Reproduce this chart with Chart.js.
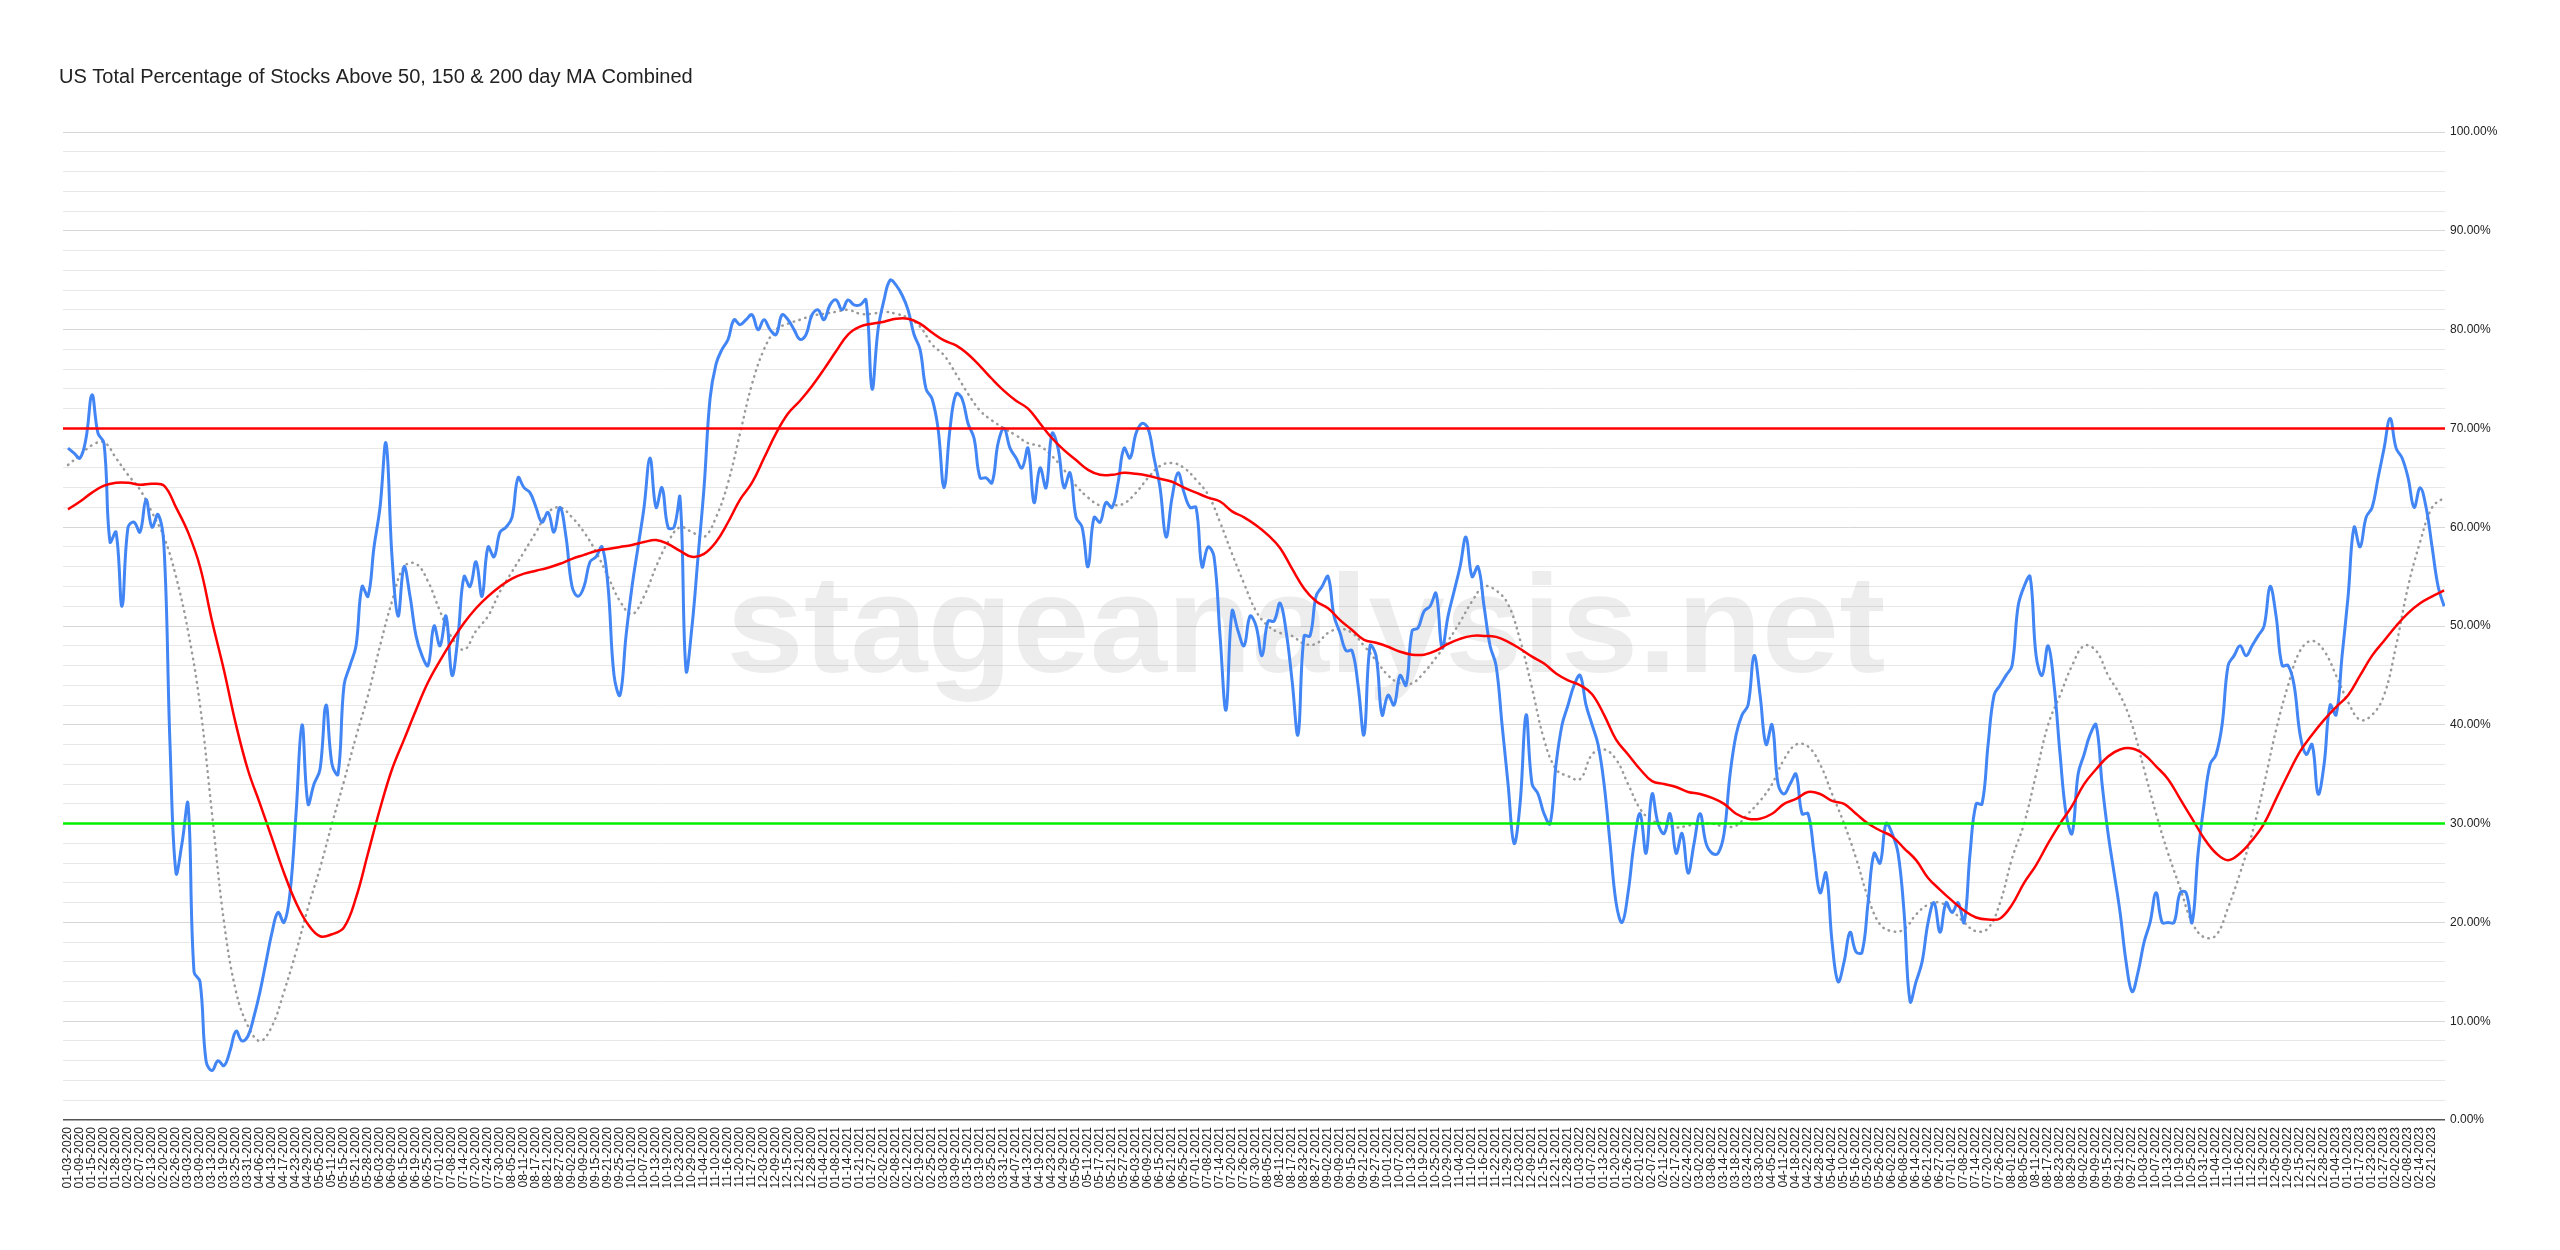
<!DOCTYPE html>
<html>
<head>
<meta charset="utf-8">
<script src="https://cdn.jsdelivr.net/npm/chart.js@4.4.1/dist/chart.umd.min.js"></script>
<style>
html,body{margin:0;padding:0;background:#ffffff;}
#wrap{width:2560px;height:1250px;position:relative;}
</style>
</head>
<body>
<div id="wrap"><canvas id="c"></canvas></div>
<script>
const chartTitle = "US Total Percentage of Stocks Above 50, 150 & 200 day MA Combined";
const watermarkText = "stageanalysis.net";

// x-axis tick labels: one every 4 trading days
const dateLabels = [
"01-03-2020","01-09-2020","01-15-2020","01-22-2020","01-28-2020","02-03-2020","02-07-2020","02-13-2020","02-20-2020","02-26-2020",
"03-03-2020","03-09-2020","03-13-2020","03-19-2020","03-25-2020","03-31-2020","04-06-2020","04-13-2020","04-17-2020","04-23-2020",
"04-29-2020","05-05-2020","05-11-2020","05-15-2020","05-21-2020","05-28-2020","06-03-2020","06-09-2020","06-15-2020","06-19-2020",
"06-25-2020","07-01-2020","07-08-2020","07-14-2020","07-20-2020","07-24-2020","07-30-2020","08-05-2020","08-11-2020","08-17-2020",
"08-21-2020","08-27-2020","09-02-2020","09-09-2020","09-15-2020","09-21-2020","09-25-2020","10-01-2020","10-07-2020","10-13-2020",
"10-19-2020","10-23-2020","10-29-2020","11-04-2020","11-10-2020","11-16-2020","11-20-2020","11-27-2020","12-03-2020","12-09-2020",
"12-15-2020","12-21-2020","12-28-2020",
"01-04-2021","01-08-2021","01-14-2021","01-21-2021","01-27-2021","02-02-2021","02-08-2021","02-12-2021","02-19-2021","02-25-2021",
"03-03-2021","03-09-2021","03-15-2021","03-19-2021","03-25-2021","03-31-2021","04-07-2021","04-13-2021","04-19-2021","04-23-2021",
"04-29-2021","05-05-2021","05-11-2021","05-17-2021","05-21-2021","05-27-2021","06-03-2021","06-09-2021","06-15-2021","06-21-2021",
"06-25-2021","07-01-2021","07-08-2021","07-14-2021","07-20-2021","07-26-2021","07-30-2021","08-05-2021","08-11-2021","08-17-2021",
"08-23-2021","08-27-2021","09-02-2021","09-09-2021","09-15-2021","09-21-2021","09-27-2021","10-01-2021","10-07-2021","10-13-2021",
"10-19-2021","10-25-2021","10-29-2021","11-04-2021","11-10-2021","11-16-2021","11-22-2021","11-29-2021","12-03-2021","12-09-2021",
"12-15-2021","12-21-2021","12-28-2021",
"01-03-2022","01-07-2022","01-13-2022","01-20-2022","01-26-2022","02-01-2022","02-07-2022","02-11-2022","02-17-2022","02-24-2022",
"03-02-2022","03-08-2022","03-14-2022","03-18-2022","03-24-2022","03-30-2022","04-05-2022","04-11-2022","04-18-2022","04-22-2022",
"04-28-2022","05-04-2022","05-10-2022","05-16-2022","05-20-2022","05-26-2022","06-02-2022","06-08-2022","06-14-2022","06-21-2022",
"06-27-2022","07-01-2022","07-08-2022","07-14-2022","07-20-2022","07-26-2022","08-01-2022","08-05-2022","08-11-2022","08-17-2022",
"08-23-2022","08-29-2022","09-02-2022","09-09-2022","09-15-2022","09-21-2022","09-27-2022","10-03-2022","10-07-2022","10-13-2022",
"10-19-2022","10-25-2022","10-31-2022","11-04-2022","11-10-2022","11-16-2022","11-22-2022","11-29-2022","12-05-2022","12-09-2022",
"12-15-2022","12-21-2022","12-28-2022",
"01-04-2023","01-10-2023","01-17-2023","01-23-2023","01-27-2023","02-02-2023","02-08-2023","02-14-2023","02-21-2023"
];
const daysPerLabel = 4;

// Combined % (blue), one value every 2 trading days
const combinedStep = 2;
const combined = [
68,67.5,67,69,73.4,69.5,68.5,58.5,59.5,52,60,60.5,59.5,62.8,60,61.3,58,
38,25,28,32,15,14,6,5,6,5.5,7,9,8,8.5,10.5,
13,16,19,21,20,23,31,40,32,34,35.5,42,36,35,44,46,
48,54,53,58,62,68.5,57,51,56,53,49,47,46,50,48,51,
45,49,55,54,56.5,53,58,57,59.5,60,61,65,64,63.5,62,60.5,
61.5,59.5,62,59,54,53,54,56.5,57,58,54,45,43,49,54,58,
62,67,62,64,60,60,63,45.5,50,57,64,73,76.5,78,79,81,
80.5,81,81.5,80,81,80,79.5,81.5,81,80,79,79.5,81.5,82,81,82.5,
83,82,83,82.5,82.5,83,74,80,83,85,84.5,83.5,82,79.5,78,74,
73,70,64,70,73.5,73,70.5,69,65,65,64.5,68.5,70,68,67,66,
68,62.5,66,64,69.5,68,64,65.5,61,60,56,61,
60.5,62.5,62,64.5,68,67,69.5,70.5,70,67,64,59,63,65.5,63.5,62,62,56,58,57,
49,41.5,51.5,49.5,48,51,50,47,50.5,50.5,52.3,49.5,44.5,39,49,49,53,54,55,51,
49.3,47.5,47.5,44,39,48,47,41,43,42,45,44,49.5,49.8,51.5,52,53.3,47.8,51,53.5,56,59,55,56,52,48,46,40,
34,28,32,41,34,33,31,30,36,40,
42,44,45,42,40,38,34,28,22,20,
23,28,31,27,33,30,29,31,27,29,
25,28,31,28,27,27,29,35,39,41,
42,47,43,38,40,34,33,34,35,31,
31,27,23,25,18,14,16,19,17,17,
22,27,26,30,29,27,21,12,14,16,
20,22,19,22,21,22,20,27,32,32,
38,43,44,45,46,52,54,55,47,45,
48,44,37,31,29,35,37,39,40,34,
29,25,21,16,13,15,18,20,23,20,
20,20,23,23,20,27,32,36,37,40,
46,47,48,47,48,49,50,54,51,46,
46,44,39,37,38,33,36,42,41,47,
53,60,58,61,62,65,68,71,68,67,
65,62,64,62,58,54,52
];

// dotted grey average, one value every 4 trading days
const avgStep = 4;
const avgDotted = [
66.3,67.3,68.3,68.6,67,65.3,63.8,61.5,59,55,
49.5,42,31,20,13,9.5,8,9.5,13,17,
21.5,25.5,30,34.3,38.8,43,48,52.5,56,56.3,
54.5,51.5,48.8,47.6,49.5,51,53.5,55.5,57.5,59.5,
61.5,62,61,59.5,57.5,55,52.5,51.2,53,56,
58.5,60,59.5,59,61,64.5,69.5,74.5,78,80,
80.6,81,81.4,81.6,81.8,82,81.6,81.6,81.8,81.6,
81.2,80.3,78.5,77.4,75.5,73.5,71.8,70.8,70,69.3,
68.5,68.2,67.2,65.8,64.2,63,62.2,62.2,62.4,63.5,
65,66.2,66.5,66,64.8,63.3,60.5,57.3,54.3,51.5,
50,49.3,49,48.2,48.2,49.3,49.7,49.3,48,46.5,
45,44.2,44.2,45.3,46.8,48.5,50.4,52.5,54,53.6,
52.2,48.6,43.7,38.5,35.5,34.8,34.5,37,37.5,36.5,
34,31.5,30.3,30,29.6,29.8,30,30,29.7,29.8,
31,32.3,34,36.5,38,37.8,36,33,30,26.5,
22.5,19.8,19.1,19.3,20.8,21.8,22,21.2,20,19.1,
19.4,22,26.5,30,35,40,43,46,48,47.5,
45,43,40,35.5,31,27,23.5,20,18.5,18.7,
21.5,25,29,34,39.5,44,47.5,48.5,47.5,45,
42.3,40.5,41,43,48,54,58.5,62,63
];

// red average, one value every 4 trading days
const avgRed = [
61.8,62.6,63.5,64.2,64.5,64.5,64.3,64.4,64.2,62,
59.5,56,50.5,45.5,40,35.4,32,28.5,25,22,
19.8,18.6,18.8,19.5,22.5,27,31.5,35.5,38.5,41.5,
44.3,46.5,48.5,50.3,51.8,53,54,54.8,55.3,55.6,
55.9,56.3,56.8,57.2,57.6,57.8,58,58.2,58.5,58.7,
58.3,57.6,57,57.3,58.5,60.5,62.8,64.5,67,69.5,
71.5,72.8,74.3,76,77.8,79.5,80.3,80.6,80.8,81.1,
81.1,80.6,79.7,78.9,78.4,77.5,76.3,75,73.8,72.8,
72,70.5,69,67.8,66.8,65.8,65.3,65.3,65.5,65.4,
65.2,64.9,64.6,64,63.5,63,62.6,61.6,61,60.2,
59.2,57.9,55.8,53.8,52.5,51.8,50.6,49.6,48.6,48.3,
47.9,47.4,47.1,47.1,47.5,48.2,48.7,49,49,48.9,
48.4,47.7,46.9,46.2,45.2,44.5,44,43.1,41,38.5,
37,35.5,34.3,34,33.7,33.2,33,32.6,32,31,
30.5,30.5,31,32,32.5,33.2,33,32.3,32,31,
30,29.3,28.7,27.5,26.3,24.5,23.3,22.2,21.2,20.5,
20.3,20.4,21.8,24,25.8,28,30,31.8,34,35.5,
36.8,37.5,37.6,37,35.8,34.5,32.5,30.5,28.5,27,
26.3,27,28.3,30,32.5,35,37.3,39,40.5,41.8,
43,45,47,48.5,50,51.3,52.3,53,53.6
];

const upperLevel = 70;
const lowerLevel = 30;

// axis settings
const xMin = -1.67, xMax = 792.3;
const yMin = 0, yMax = 100, yStep = 2, yLabelEvery = 10;

const toPts = (arr, step) => arr.map((v, i) => ({x: i * step, y: v}));
const flat = (v) => [{x: xMin, y: v}, {x: xMax, y: v}];

const FONT = '"Liberation Sans", Arial, Helvetica, sans-serif';

const watermarkPlugin = {
  id: 'watermark',
  beforeDatasetsDraw(chart) {
    const ctx = chart.ctx;
    ctx.save();
    ctx.font = 'bold 139px ' + FONT;
    ctx.fillStyle = 'rgba(0,0,0,0.07)';
    ctx.textAlign = 'center';
    ctx.textBaseline = 'alphabetic';
    ctx.fillText(watermarkText, 1306, 672);
    ctx.restore();
  }
};
const titlePlugin = {
  id: 'titleText',
  afterDraw(chart) {
    const ctx = chart.ctx;
    ctx.save();
    ctx.font = '20px ' + FONT;
    ctx.fillStyle = '#222222';
    ctx.textAlign = 'left';
    ctx.textBaseline = 'alphabetic';
    ctx.fillText(chartTitle, 59, 83);
    ctx.restore();
  }
};

new Chart(document.getElementById('c'), {
  type: 'line',
  data: {
    datasets: [
      {label: '30%', data: flat(lowerLevel), borderColor: '#00f000', borderWidth: 2.5, tension: 0},
      {label: '70%', data: flat(upperLevel), borderColor: '#ff0000', borderWidth: 2.5, tension: 0},
      {label: 'Average', data: toPts(avgRed, avgStep), borderColor: '#ff0000', borderWidth: 2.5, tension: 0.4},
      {label: 'Combined', data: toPts(combined, combinedStep), borderColor: '#4285f4', borderWidth: 3, tension: 0.4},
      {label: 'Short average', data: toPts(avgDotted, avgStep), borderColor: '#9a9a9a', borderWidth: 2.5,
       borderDash: [0.5, 5.5], borderCapStyle: 'round', tension: 0.4}
    ]
  },
  options: {
    responsive: true,
    maintainAspectRatio: false,
    animation: false,
    devicePixelRatio: 1,
    layout: {padding: {top: 132, left: 63, right: 0, bottom: 0}},
    plugins: {legend: {display: false}, tooltip: {enabled: false}, title: {display: false}},
    elements: {point: {radius: 0}, line: {borderJoinStyle: 'round', fill: false}},
    scales: {
      x: {
        type: 'linear', min: xMin, max: xMax,
        afterBuildTicks: (s) => { s.ticks = dateLabels.map((_, i) => ({value: i * daysPerLabel})); },
        afterFit: (s) => { s.height = 130; },
        grid: {display: false, drawTicks: false},
        border: {display: false},
        ticks: {
          autoSkip: false, minRotation: 90, maxRotation: 90, padding: 7,
          color: '#222222', font: {family: FONT, size: 12},
          callback: (v) => dateLabels[Math.round(v / daysPerLabel)] ?? ''
        }
      },
      y: {
        position: 'right', min: yMin, max: yMax,
        afterFit: (s) => { s.width = 115; },
        border: {display: false},
        grid: {
          drawTicks: false,
          color: (c) => c.tick.value === 0 ? '#555555' : (c.tick.value % yLabelEvery === 0 ? '#d6d6d6' : '#e8e8e8'),
          lineWidth: (c) => c.tick.value === 0 ? 1.5 : 1
        },
        ticks: {
          stepSize: yStep, autoSkip: false, padding: 5,
          color: '#222222', font: {family: FONT, size: 12},
          callback: (v) => (v % yLabelEvery === 0 ? v.toFixed(2) + '%' : '')
        }
      }
    }
  },
  plugins: [watermarkPlugin, titlePlugin]
});
</script>
</body>
</html>
